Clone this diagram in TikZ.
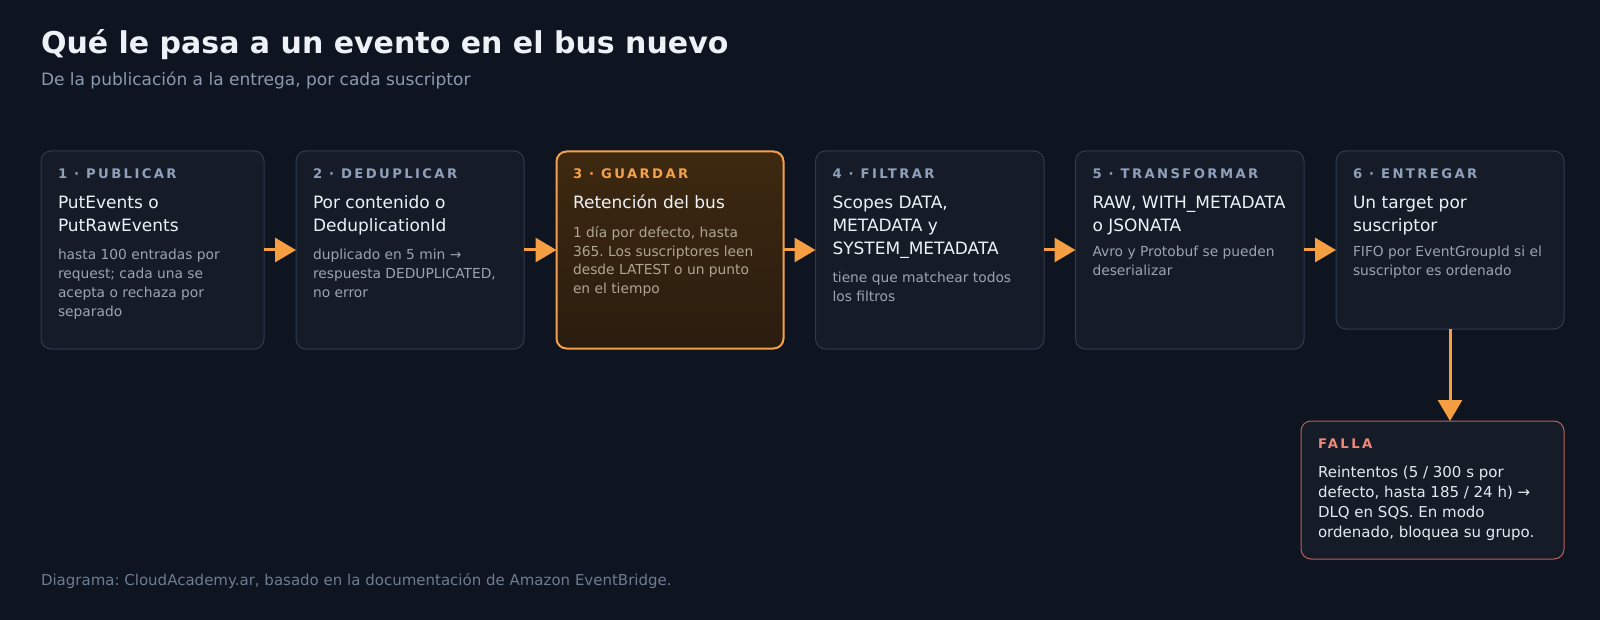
\documentclass[tikz,border=0pt]{standalone}
\usepackage{fontspec}
\setmainfont{DejaVu Sans}
\newfontfamily\labfont[LetterSpace=18]{DejaVu Sans}
\usetikzlibrary{arrows.meta}
\frenchspacing
\definecolor{bg}{HTML}{0E1420}
\definecolor{boxfill}{HTML}{151C28}
\definecolor{boxline}{HTML}{2F3B4E}
\definecolor{labcol}{HTML}{8FA0BA}
\definecolor{headcol}{HTML}{EEF2F7}
\definecolor{desccol}{HTML}{9AA4B2}
\definecolor{orangec}{HTML}{F5A04A}
\definecolor{arrowc}{HTML}{F59E42}
\definecolor{hitop}{HTML}{3E2910}
\definecolor{hibot}{HTML}{2A1C0F}
\definecolor{hidesc}{HTML}{AFA595}
\definecolor{failline}{HTML}{B8625C}
\definecolor{failcol}{HTML}{F08878}
\definecolor{failtext}{HTML}{E5E9EF}
\definecolor{subcol}{HTML}{8B9AB0}
\definecolor{footcol}{HTML}{6E7C92}
\newcommand\ml[1]{\begin{tabular}[t]{@{}l@{}}#1\end{tabular}}
\tikzset{
  txt/.style={inner sep=0pt, outer sep=0pt, anchor=base west},
  box/.style={draw=boxline, line width=1pt, fill=boxfill, rounded corners=10pt,
    inner sep=0pt, outer sep=0pt, anchor=north west, minimum height=198pt},
  hibox/.style={draw=orangec, line width=2pt, top color=hitop, bottom color=hibot, rounded corners=10pt,
    inner sep=0pt, outer sep=0pt, anchor=north west, minimum height=198pt},
  failbox/.style={draw=failline, line width=1pt, fill=boxfill, rounded corners=10pt,
    inner sep=0pt, outer sep=0pt, anchor=north west},
  lab/.style={txt, font=\labfont\bfseries\fontsize{13.2}{16}\selectfont, text=labcol},
  head/.style={txt, font=\fontsize{17}{23}\selectfont, text=headcol},
  desc/.style={txt, font=\fontsize{13.8}{18.7}\selectfont, text=desccol},
  arr/.style={draw=arrowc, line width=3pt, -{Triangle[length=21pt,width=24pt]}, shorten >=0pt},
}
\begin{document}
\begin{tikzpicture}[x=1pt,y=-1pt]
\fill[bg] (0,0) rectangle (1600,620);
\useasboundingbox (0,0) rectangle (1600,620);

\node[txt, font=\bfseries\fontsize{30}{36}\selectfont, text=headcol] (title) at (41,54) {Qué le pasa a un evento en el bus nuevo};
\node[txt, font=\fontsize{17}{21}\selectfont, text=subcol] (sub) at (41,86) {De la publicación a la entrega, por cada suscriptor};

% boxes
\node[box, minimum width=223pt] (b1) at (41,151) {};
\node[box, minimum width=228pt] (b2) at (296,151) {};
\node[hibox, minimum width=227pt, minimum height=197pt] (b3) at (556.5,151.5) {};
\node[box, minimum width=228.5pt] (b4) at (815.5,151) {};
\node[box, minimum width=228.5pt] (b5) at (1075.5,151) {};
\node[box, minimum width=228pt, minimum height=178pt] (b6) at (1336,151) {};
\node[failbox, minimum width=263pt, minimum height=138pt] (fail) at (1301,421) {};

% box 1
\node[lab] (b1l) at (58,179) {1 · PUBLICAR};
\node[head] (b1h) at (58,209) {\ml{PutEvents o\\PutRawEvents}};
\node[desc] (b1d) at (58,260) {\ml{hasta 100 entradas por\\request; cada una se\\acepta o rechaza por\\separado}};
% box 2
\node[lab] (b2l) at (313,179) {2 · DEDUPLICAR};
\node[head] (b2h) at (313,209) {\ml{Por contenido o\\DeduplicationId}};
\node[desc] (b2d) at (313,260) {\ml{duplicado en 5 min →\\respuesta DEDUPLICATED,\\no error}};
% box 3
\node[lab, text=orangec] (b3l) at (573,179) {3 · GUARDAR};
\node[head] (b3h) at (573,209) {Retención del bus};
\node[desc, text=hidesc] (b3d) at (573,237.5) {\ml{1 día por defecto, hasta\\365. Los suscriptores leen\\desde LATEST o un punto\\en el tiempo}};
% box 4
\node[lab] (b4l) at (832.5,179) {4 · FILTRAR};
\node[head] (b4h) at (832.5,209) {\ml{Scopes DATA,\\METADATA y\\SYSTEM\_METADATA}};
\node[desc] (b4d) at (832.5,282.5) {\ml{tiene que matchear todos\\los filtros}};
% box 5
\node[lab] (b5l) at (1092.5,179) {5 · TRANSFORMAR};
\node[head] (b5h) at (1092.5,209) {\ml{RAW, WITH\_METADATA\\o JSONATA}};
\node[desc] (b5d) at (1092.5,257) {\ml{Avro y Protobuf se pueden\\deserializar}};
% box 6
\node[lab] (b6l) at (1353,179) {6 · ENTREGAR};
\node[head] (b6h) at (1353,209) {\ml{Un target por\\suscriptor}};
\node[desc] (b6d) at (1353,257) {\ml{FIFO por EventGroupId si el\\suscriptor es ordenado}};
% fail
\node[lab, text=failcol] (fl) at (1318,448) {FALLA};
\node[txt, font=\fontsize{15}{20}\selectfont, text=failtext] (fb) at (1318,477) {\ml{Reintentos (5 / 300 s por\\defecto, hasta 185 / 24 h) →\\DLQ en SQS. En modo\\ordenado, bloquea su grupo.}};

% arrows
\draw[arr] (b1.east) -- (b2.west);
\draw[arr] (b2.east) -- (b3.west);
\draw[arr] (b3.east) -- (b4.west);
\draw[arr] (b4.east) -- (b5.west);
\draw[arr] (b5.east) -- (b5.east -| b6.west);
\draw[arr] (b6.south) -- (b6.south |- fail.north);

\node[txt, font=\fontsize{15}{18}\selectfont, text=footcol] (foot) at (41,585.5) {Diagrama: CloudAcademy.ar, basado en la documentación de Amazon EventBridge.};
\end{tikzpicture}
\end{document}
